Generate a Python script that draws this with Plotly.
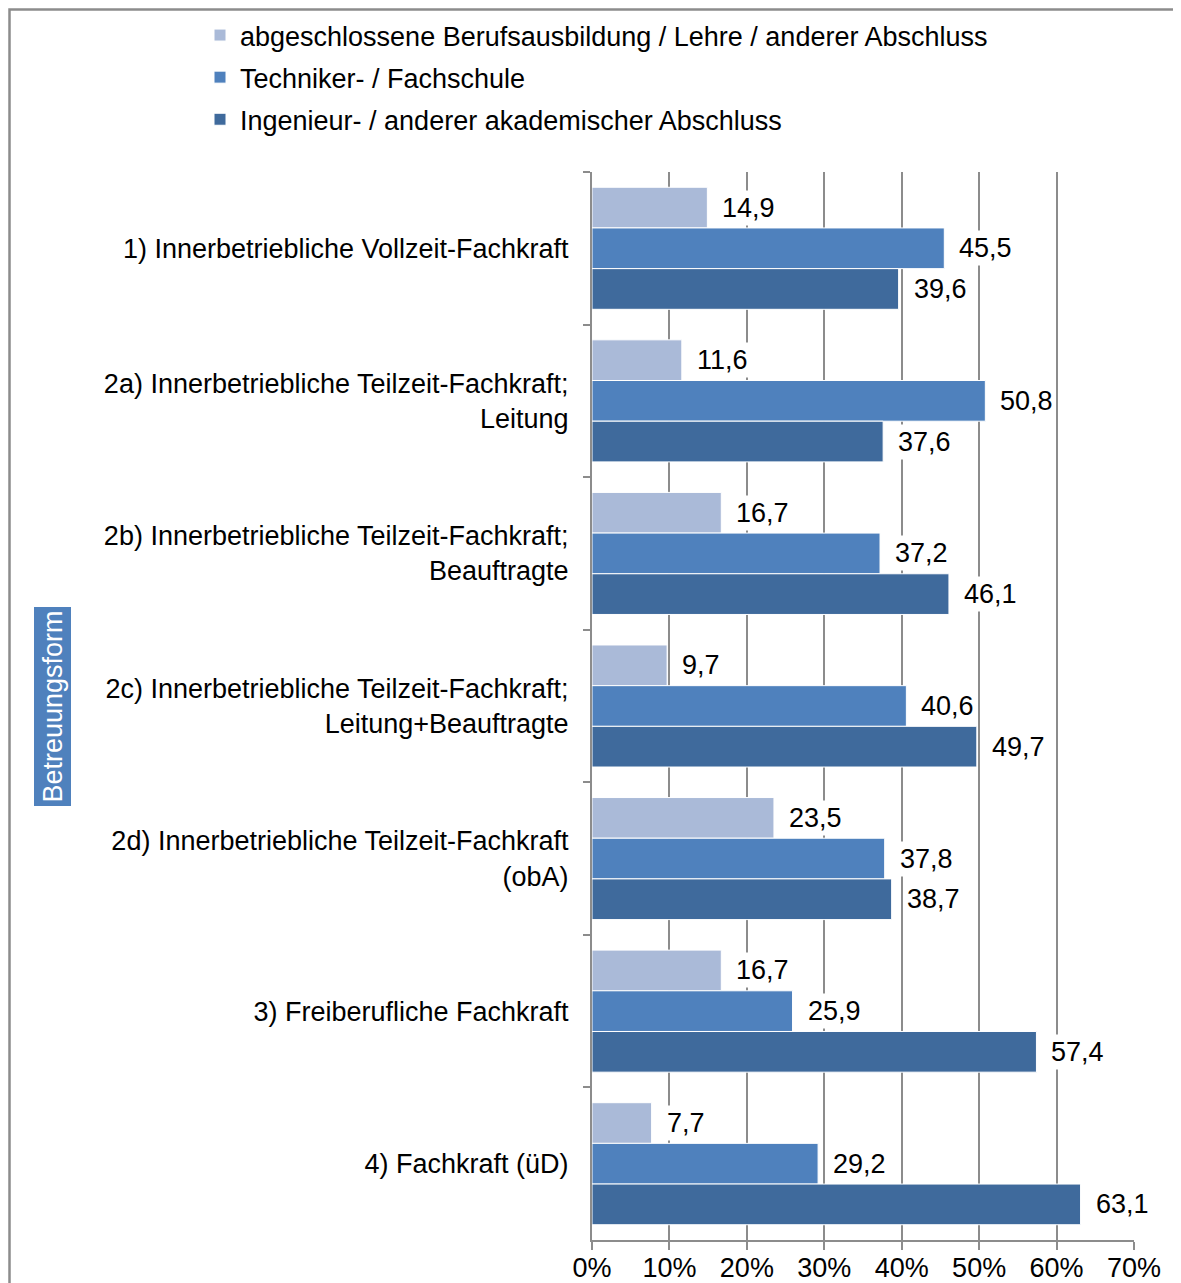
import plotly.graph_objects as go

categories = [
    "1) Innerbetriebliche Vollzeit-Fachkraft",
    "2a) Innerbetriebliche Teilzeit-Fachkraft;<br>Leitung",
    "2b) Innerbetriebliche Teilzeit-Fachkraft;<br>Beauftragte",
    "2c) Innerbetriebliche Teilzeit-Fachkraft;<br>Leitung+Beauftragte",
    "2d) Innerbetriebliche Teilzeit-Fachkraft<br>(obA)",
    "3) Freiberufliche Fachkraft",
    "4) Fachkraft (üD)",
]
series_names = [
    "abgeschlossene Berufsausbildung / Lehre / anderer Abschluss",
    "Techniker- / Fachschule",
    "Ingenieur- / anderer akademischer Abschluss",
]
berufsausbildung = [14.9, 11.6, 16.7, 9.7, 23.5, 16.7, 7.7]
techniker = [45.5, 50.8, 37.2, 40.6, 37.8, 25.9, 29.2]
ingenieur = [39.6, 37.6, 46.1, 49.7, 38.7, 57.4, 63.1]
colors = ["#AABAD8", "#4F81BD", "#3F6A9C"]
x_ticks = [0, 10, 20, 30, 40, 50, 60, 70]
x_ticklabels = [f"{t}%" for t in x_ticks]
axis_title = "Betreuungsform"

FONT = "Liberation Sans, Arial, sans-serif"
FS = 27

# plot area in figure pixels
L, R, T, B = 584, 55, 164, 51
W, H = 1181, 1283
PW = W - L - R
PH = H - T - B


def px_x(p):
    return (p - L) / PW


def px_y(p):
    return (H - B - p) / PH


all_series = [berufsausbildung, techniker, ingenieur]
band = PH / len(categories)
bar_h = band * 0.8 / 3

fig = go.Figure()
for i, (name, vals, col) in enumerate(zip(series_names, all_series, colors)):
    fig.add_trace(go.Bar(
        y=categories, x=vals, name=name, orientation="h",
        legendgroup=f"g{i}",
        marker=dict(color=col, line=dict(color="white", width=1)),
    ))
    for cat, v in zip(categories, vals):
        fig.add_annotation(
            x=v, y=cat, xref="x", yref="y",
            text=f"{v:.1f}".replace(".", ","),
            showarrow=False, xanchor="left", yanchor="middle",
            xshift=12, yshift=(1 - i) * bar_h,
            bgcolor="white", borderpad=2,
            font=dict(size=FS, color="black", family=FONT),
        )

fig.update_layout(
    width=W, height=H,
    paper_bgcolor="white", plot_bgcolor="white",
    font=dict(family=FONT, size=FS, color="black"),
    barmode="group", bargap=0.2, bargroupgap=0,
    margin=dict(l=L, r=R, t=T, b=B, autoexpand=False),
    legend=dict(x=px_x(192), y=px_y(3), xanchor="left", yanchor="top",
                orientation="v", font=dict(size=FS), itemwidth=30,
                traceorder="grouped", tracegroupgap=4,
                bgcolor="rgba(0,0,0,0)"),
)
fig.update_xaxes(range=[0, 70], tickvals=x_ticks, ticktext=x_ticklabels,
                 showgrid=True, gridcolor="#8C8C8C", gridwidth=2,
                 showline=True, linecolor="#8C8C8C", linewidth=2,
                 ticks="outside", ticklen=8, tickcolor="#8C8C8C", tickwidth=2,
                 ticklabelstandoff=-5,
                 tickfont=dict(size=FS), zeroline=False, fixedrange=True)
fig.update_yaxes(autorange="reversed", showgrid=False,
                 showline=True, linecolor="#8C8C8C", linewidth=2,
                 ticks="outside", ticklen=7, tickcolor="#8C8C8C", tickwidth=2,
                 tickson="boundaries", ticklabelstandoff=16,
                 tickfont=dict(size=FS))

fig.add_annotation(xref="paper", yref="paper",
                   x=px_x(25.5), y=px_y(699),
                   text=axis_title, textangle=-90, showarrow=False,
                   bgcolor="#4F81BD", font=dict(color="white", size=FS),
                   borderpad=3)

fig.add_shape(type="rect", xref="paper", yref="paper",
              x0=px_x(1.5), x1=px_x(1172),
              y0=-0.2, y1=px_y(1.5),
              line=dict(color="#8C8C8C", width=2.5), layer="below")

fig.write_html("out.html")
